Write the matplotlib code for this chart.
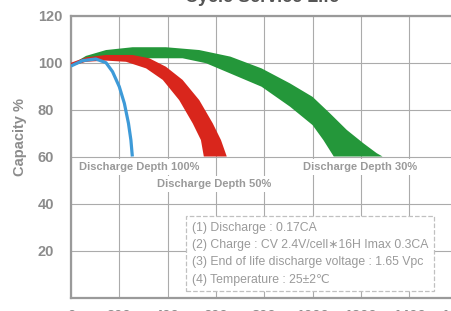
import numpy as np
import matplotlib
matplotlib.use('Agg')
import matplotlib.pyplot as plt

plt.rcParams['font.family'] = ['Liberation Sans', 'DejaVu Sans']

# 100% DoD (blue line)
blue_x = [0, 48, 103, 145, 172, 200, 221, 238, 248, 254]
blue_y = [98.5, 100.8, 101.5, 99.9, 96.1, 89.7, 82.6, 74.1, 67, 60]

# 50% DoD (red band)
red_up_x = [0, 62, 145, 255, 324, 393, 462, 531, 587, 621, 645]
red_up_y = [99.9, 102.2, 103.2, 103.2, 101.8, 98.2, 92.6, 84, 74.1, 67, 60]
red_lo_x = [0, 62, 145, 228, 311, 380, 448, 504, 538, 550]
red_lo_y = [98.5, 100.3, 100.8, 100.3, 97.5, 92.6, 84, 74.1, 67, 60]

# 30% DoD (green band)
green_up_x = [0, 62, 145, 255, 393, 531, 660, 789, 907, 1000, 1072, 1142, 1211, 1266, 1290]
green_up_y = [99, 102.8, 105.3, 106.5, 106.5, 105.3, 102.5, 97.5, 91.1, 85.4, 78.4, 71.3, 65.6, 61.4, 60]
green_lo_x = [0, 62, 145, 255, 393, 462, 559, 658, 789, 907, 1000, 1045, 1088]
green_lo_y = [98.5, 100.5, 101.5, 101.8, 101.8, 101.8, 99.7, 95.4, 89.7, 81.2, 73.4, 67, 60]

x_ticks = [0, 200, 400, 600, 800, 1000, 1200, 1400, 1600]
y_ticks = [20, 40, 60, 80, 100, 120]

notes = ['(1) Discharge : 0.17CA',
         '(2) Charge : CV 2.4V/cell\u221716H Imax 0.3CA',
         '(3) End of life discharge voltage : 1.65 Vpc',
         '(4) Temperature : 25\u00b12\u2103']

gray = '#8c8c8c'

fig = plt.figure(figsize=(4.51, 3.11), dpi=100)
ax = fig.add_axes([71/451, 13.5/311, 386.4/451, 282/311])

ax.set_xlim(0, 1600)
ax.set_ylim(0, 120)
ax.set_xticks(x_ticks)
ax.set_yticks(y_ticks)
ax.grid(True, color='#ababab', lw=0.8)
ax.set_axisbelow(True)
for s in ax.spines.values():
    s.set_color('#9a9a9a')
    s.set_linewidth(1.6)
ax.tick_params(length=0, colors=gray, labelsize=10.5)
ax.tick_params(axis='x', pad=8.5)
ax.tick_params(axis='y', pad=24)
for lab in ax.get_yticklabels():
    lab.set_ha('left')
    lab.set_fontweight('bold')
for lab in ax.get_xticklabels():
    lab.set_fontweight('bold')

ax.set_ylabel('Capacity %', color=gray, fontsize=10.5, fontweight='bold')
ax.yaxis.set_label_coords(-0.115, 0.57)

# bands
ax.fill(np.concatenate([green_up_x, green_lo_x[::-1]]),
        np.concatenate([green_up_y, green_lo_y[::-1]]), color='#24973a', lw=0, zorder=3)
ax.fill(np.concatenate([red_up_x, red_lo_x[::-1]]),
        np.concatenate([red_up_y, red_lo_y[::-1]]), color='#d9261c', lw=0, zorder=4)
ax.plot(blue_x, blue_y, color='#3d9ad8', lw=2.3, zorder=5, solid_capstyle='butt')

lbl = dict(color='#9a9a9a', fontsize=8, fontweight='bold', ha='center', va='center',
           bbox=dict(fc='white', ec='none', pad=2), zorder=6)
ax.text(284, 55.5, 'Discharge Depth 100%', **lbl)
ax.text(592, 48.3, 'Discharge Depth 50%', **lbl)
ax.text(1197, 55.5, 'Discharge Depth 30%', **lbl)

ax.text(501, 32.3, '\n'.join(notes), color='#9a9a9a', fontsize=8.8, ha='left', va='top',
        linespacing=1.6, zorder=6,
        bbox=dict(boxstyle='square,pad=0.45', fc='white', ec='#c0c0c0', ls='--', lw=0.9))

fig.text(0.581, 1 - 2/311, 'Cycle Service Life', color='#555555', fontsize=13,
         fontweight='bold', ha='center', va='baseline')

fig.savefig('out.png', dpi=100)
